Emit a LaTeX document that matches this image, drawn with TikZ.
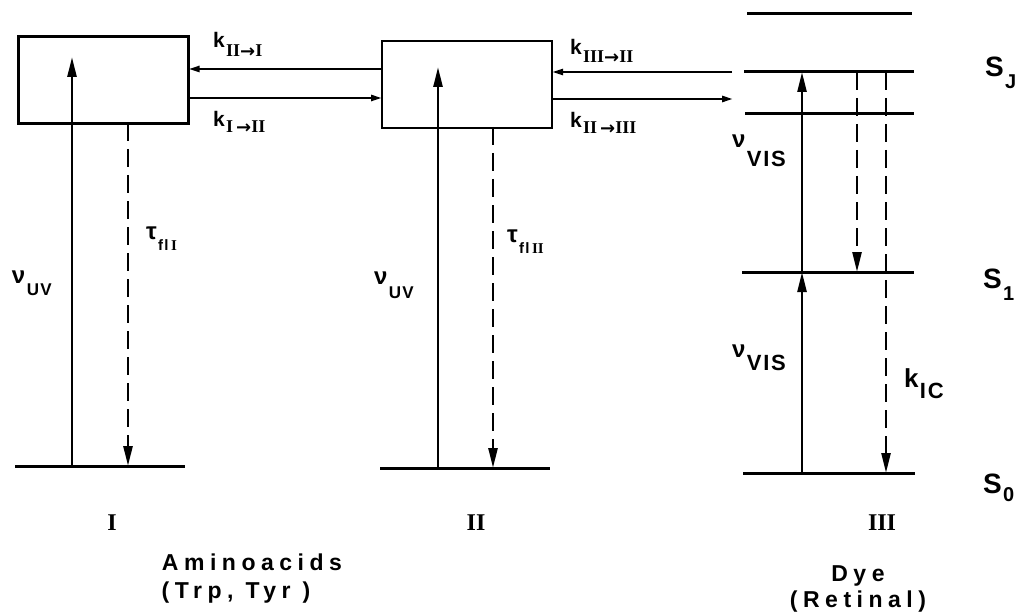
\documentclass[tikz,border=0pt]{standalone}
\usepackage{fontspec}
\setmainfont{Liberation Sans}
\newfontfamily\spcd[LetterSpace=24]{Liberation Sans}
\newfontfamily\spcs[LetterSpace=8]{Liberation Sans}
\newfontfamily\romf{Liberation Serif}
\newfontfamily\dvf{DejaVu Sans}
\usetikzlibrary{arrows.meta}
\newcommand\fs[1]{\fontsize{#1}{#1}\selectfont}
\newcommand\rn[1]{{\romf\bfseries #1}}
\newcommand\ar{{\dvf\bfseries\fs{18}\raisebox{-0.5pt}{→}}}
% main size, main text, drop, sub size, sub text
\newcommand\sublab[5]{{\fs{#1}#2}\kern1.5pt\raisebox{-#3pt}{\fs{#4}#5}}
\begin{document}
\begin{tikzpicture}[x=1pt,y=-1pt,
  lvl/.style={line width=3pt},
  boxst/.style={draw,line width=2.8pt,minimum width=170pt,minimum height=87pt,inner sep=0pt,outer sep=0pt},
  up/.style={line width=2.5pt,-{Triangle[length=20pt,width=9pt]}},
  dn/.style={line width=2.5pt,dash pattern=on 18pt off 8pt,-{Triangle[length=20pt,width=9pt]}},
  tr/.style={line width=2.4pt,-{Triangle[length=11pt,width=6pt]}},
  lab/.style={anchor=base west,inner sep=0pt,outer sep=0pt,font=\bfseries},
  big/.style={anchor=base,inner sep=0pt,font=\bfseries}]
\useasboundingbox (0,0) rectangle (1015,615);

% boxes
\node[boxst] (boxI) at (103.5,80) {};
\node[boxst] (boxII) at (467,84.5) {};

% ground levels I, II
\coordinate (gIa) at (15,466);  \coordinate (gIb) at (185,466);
\coordinate (gIIa) at (380,468); \coordinate (gIIb) at (550,468);
\draw[lvl] (gIa) -- (gIb);
\draw[lvl] (gIIa) -- (gIIb);

% dye levels
\coordinate (L4a) at (747,14);  \coordinate (L4b) at (912,14);
\coordinate (SJa) at (744,72);  \coordinate (SJb) at (914,72);
\coordinate (L2a) at (745,114); \coordinate (L2b) at (914,114);
\coordinate (S1a) at (742,272); \coordinate (S1b) at (914,272);
\coordinate (S0a) at (743,473); \coordinate (S0b) at (915,473);
\draw[lvl] (L4a) -- (L4b);
\draw[lvl] (SJa) -- (SJb);
\draw[lvl] (L2a) -- (L2b);
\draw[lvl] (S1a) -- (S1b);
\draw[lvl] (S0a) -- (S0b);

% UV excitation and fluorescence
\coordinate (uIt) at (72,57);   \coordinate (uIb) at (72,466);
\coordinate (fIt) at (128,123); \coordinate (fIb) at (128,466);
\coordinate (uIIt) at (438,67); \coordinate (uIIb) at (438,468);
\coordinate (fIIt) at (493,127);\coordinate (fIIb) at (493,468);
\draw[up] (uIb) -- (uIt);
\draw[dn] (fIt) -- (fIb);
\draw[up] (uIIb) -- (uIIt);
\draw[dn] (fIIt) -- (fIIb);

% transfer arrows
\coordinate (tA) at (boxII.west |- 0,69);
\coordinate (tB) at (boxI.east |- 0,69);
\coordinate (tC) at (boxI.east |- 0,98);
\coordinate (tD) at (boxII.west |- 0,98);
\draw[tr] (tA) -- (tB);
\draw[tr] (tC) -- (tD);
\coordinate (tE) at (732,72);
\coordinate (tF) at (boxII.east |- 0,72);
\coordinate (tG) at (boxII.east |- 0,99);
\coordinate (tH) at (733,99);
\draw[tr] (tE) -- (tF);
\draw[tr] (tG) -- (tH);

% dye transitions
\coordinate (v0) at (802,473); \coordinate (v1) at (802,272); \coordinate (vJ) at (802,72);
\draw[up] (v0) -- (v1);
\draw[up] (v1) -- (vJ);
\coordinate (dJ) at (857,72); \coordinate (d1) at (857,272);
\draw[dn] (dJ) -- (d1);
\coordinate (eJ) at (886,72); \coordinate (e0) at (886,473);
\draw[dn] (eJ) -- (e0);

% rate labels
\node[lab] (k21) at (213,48) {\sublab{21}{k}{9}{18}{\rn{II}\ar\rn{I}}};
\node[lab] (k12) at (213,127) {\sublab{21}{k}{6}{18}{\rn{I}\,\ar\rn{II}}};
\node[lab] (k32) at (570,55) {\sublab{21}{k}{8}{18}{\rn{III}\ar\rn{II}}};
\node[lab] (k23) at (570,128) {\sublab{21}{k}{6}{18}{\rn{II}\,\ar\rn{III}}};

\node[lab] (nuI) at (12,283) {\sublab{24}{ν}{12}{17}{\spcs UV}};
\node[lab] (tauI) at (146,239) {\sublab{24}{τ}{11}{15}{\spcs fl\,\rn{I}}};
\node[lab] (nuII) at (374,284) {\sublab{24}{ν}{14}{17}{\spcs UV}};
\node[lab] (tauII) at (507,242) {\sublab{24}{τ}{11}{15}{\spcs fl\,\rn{II}}};
\node[lab] (nuV1) at (732,148) {\sublab{24}{ν}{19}{22}{\spcs VIS}};
\node[lab] (nuV2) at (732,357) {\sublab{24}{ν}{13}{22}{\spcs VIS}};
\node[lab] (kIC) at (904,387) {\sublab{26}{k}{11}{22}{\spcs IC}};

\node[lab] (SJ) at (985,77) {\sublab{28}{S}{12}{20}{J}};
\node[lab] (S1) at (983,288) {\sublab{28}{S}{12}{20}{1}};
\node[lab] (S0) at (983,493) {\sublab{28}{S}{8}{20}{0}};

% bottom labels
\node[big] (nI) at (112,530) {\fs{24}\rn{I}};
\node[big] (nII) at (476,530) {\fs{24}\rn{II}};
\node[big] (nIII) at (882,530) {\fs{24}\rn{III}};
\node[big] (am) at (252,570) {\fs{23}\spcd Aminoacids};
\node[big] (tt) at (236,598) {\fs{23}\spcd (Trp, Tyr )};
\node[big] (dye) at (858,581) {\fs{23}\spcd Dye};
\node[big] (ret) at (858,607) {\fs{23}\spcd (Retinal)};
\end{tikzpicture}
\end{document}
